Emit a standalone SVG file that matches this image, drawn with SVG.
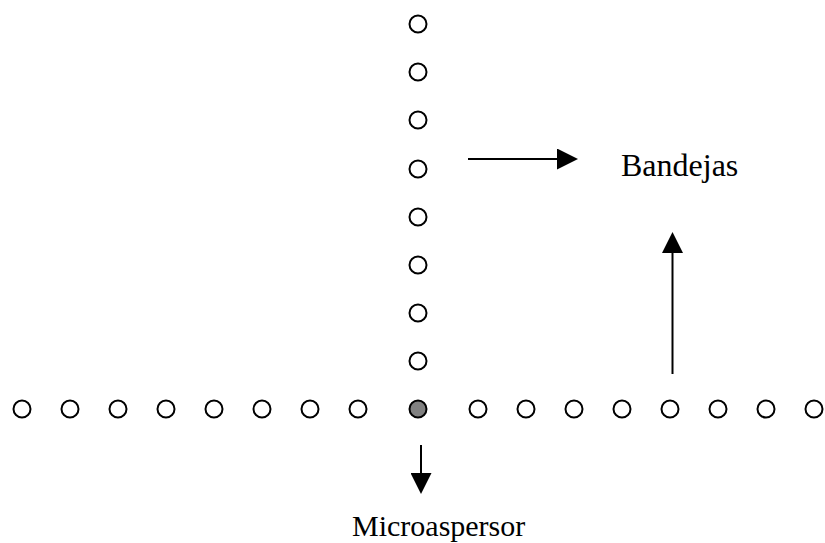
<svg xmlns="http://www.w3.org/2000/svg" width="825" height="543" viewBox="0 0 825 543">
  <style>
    .emitter { fill: #ffffff; stroke: #000000; stroke-width: 2; }
    .source { fill: #808080; stroke: #000000; stroke-width: 2; }
    .flow { stroke: #000000; stroke-width: 2; fill: none; marker-end: url(#head); }
    .label { font-family: "Liberation Serif", "Times New Roman", serif; fill: #000000; }
  </style>
  <defs>
    <marker id="head" markerUnits="userSpaceOnUse" markerWidth="21" markerHeight="21" viewBox="0 0 21 21" refX="1" refY="10.5" orient="auto">
      <path d="M0,0 L21,10.5 L0,21 Z" fill="#000000"/>
    </marker>
  </defs>
  <rect width="825" height="543" fill="#ffffff"/>

  <!-- vertical row of trays -->
  <g id="column">
    <circle class="emitter" cx="418" cy="24" r="8.5"/>
    <circle class="emitter" cx="418" cy="72" r="8.5"/>
    <circle class="emitter" cx="418" cy="120" r="8.5"/>
    <circle class="emitter" cx="418" cy="169" r="8.5"/>
    <circle class="emitter" cx="418" cy="217" r="8.5"/>
    <circle class="emitter" cx="418" cy="265" r="8.5"/>
    <circle class="emitter" cx="418" cy="313" r="8.5"/>
    <circle class="emitter" cx="418" cy="361" r="8.5"/>
  </g>

  <!-- horizontal row of trays -->
  <g id="row">
    <circle class="emitter" cx="22" cy="409" r="8.5"/>
    <circle class="emitter" cx="70" cy="409" r="8.5"/>
    <circle class="emitter" cx="118" cy="409" r="8.5"/>
    <circle class="emitter" cx="166" cy="409" r="8.5"/>
    <circle class="emitter" cx="214" cy="409" r="8.5"/>
    <circle class="emitter" cx="262" cy="409" r="8.5"/>
    <circle class="emitter" cx="310" cy="409" r="8.5"/>
    <circle class="emitter" cx="358" cy="409" r="8.5"/>
    <circle class="emitter" cx="478" cy="409" r="8.5"/>
    <circle class="emitter" cx="526" cy="409" r="8.5"/>
    <circle class="emitter" cx="574" cy="409" r="8.5"/>
    <circle class="emitter" cx="622" cy="409" r="8.5"/>
    <circle class="emitter" cx="670" cy="409" r="8.5"/>
    <circle class="emitter" cx="718" cy="409" r="8.5"/>
    <circle class="emitter" cx="766" cy="409" r="8.5"/>
    <circle class="emitter" cx="814" cy="409" r="8.5"/>
  </g>

  <!-- micro-sprinkler at the crossing -->
  <g id="sprinkler">
    <circle class="source" cx="418" cy="409" r="8.5"/>
  </g>

  <g id="connectors">
    <line class="flow" x1="468" y1="159" x2="558" y2="159"/>
    <line class="flow" x1="672.5" y1="374" x2="672.5" y2="252"/>
    <line class="flow" x1="421" y1="445" x2="421" y2="474"/>
  </g>

  <g id="label-bandejas">
    <text class="label" x="621" y="176" font-size="32">Bandejas</text>
  </g>
  <g id="label-microaspersor">
    <text class="label" x="352" y="536" font-size="30">Microaspersor</text>
  </g>
</svg>
